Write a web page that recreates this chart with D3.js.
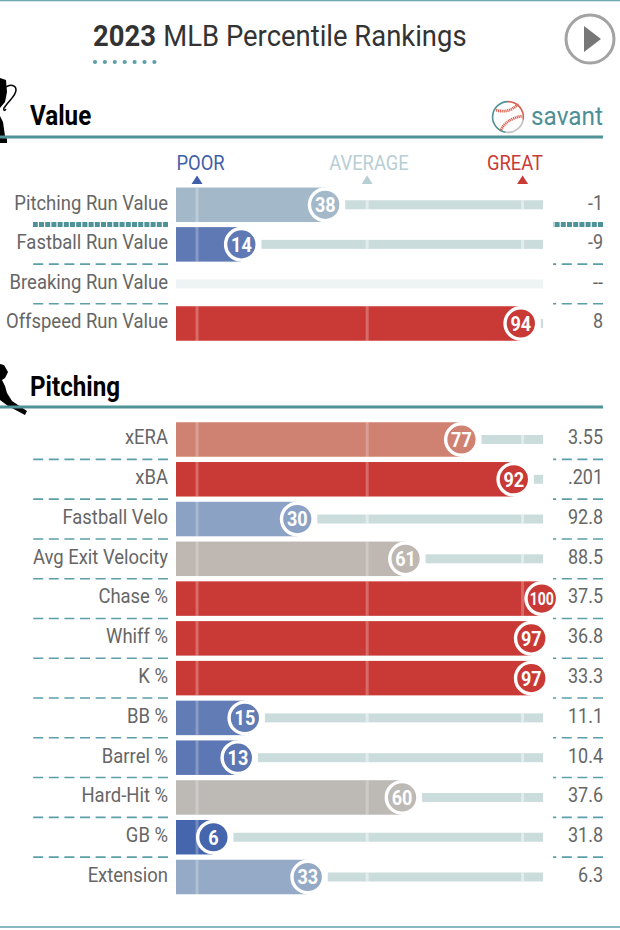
<!DOCTYPE html>
<html><head><meta charset="utf-8">
<style>html,body{margin:0;padding:0;background:#fff}svg{display:block}text{font-family:Roboto,sans-serif}</style>
<script src="https://cdn.jsdelivr.net/npm/d3@7"></script>
</head><body><svg id="c" width="620" height="930"></svg>
<script>
const valueLabels=["Pitching Run Value","Fastball Run Value","Breaking Run Value","Offspeed Run Value"];
const valuePercentiles=[38,14,null,94];
const valueStats=["-1","-9","--","8"];
const pitchingLabels=["xERA","xBA","Fastball Velo","Avg Exit Velocity","Chase %","Whiff %","K %","BB %","Barrel %","Hard-Hit %","GB %","Extension"];
const pitchingPercentiles=[77,92,30,61,100,97,97,15,13,60,6,33];
const pitchingStats=["3.55",".201","92.8","88.5","37.5","36.8","33.3","11.1","10.4","37.6","31.8","6.3"];
const legendLabels=["POOR","AVERAGE","GREAT"];
const colorStops=[0,6,14,30,38,50,60,77,90,100];
const colorValues=["#3a5ca8","#4565ad","#5f79b4","#8ba2c4","#a3b8c8","#bdbdbd","#bdbab6","#cf8172","#c93a36","#c93a36"];

const svg=d3.select("#c");
const teal="#4f9298";
const x=d3.scaleLinear().domain([0,100]).range([192.5,541.8]);
const color=d3.scaleLinear().domain(colorStops).range(colorValues);
const barLeft=176,trackEnd=543,barH=34.5,trackH=9,labelX=168,statX=603;
const refs=[1.3,50,94.5];

function squeezed(g,str,px,py,size,weight,fill,anchor,k){
  return g.append("text").attr("transform",`translate(${px},${py}) scale(${k},1)`)
    .attr("text-anchor",anchor).attr("font-size",size).attr("font-weight",weight).attr("fill",fill)
    .attr("dominant-baseline","central").text(str);
}
// frame
svg.append("line").attr("x1",0).attr("x2",620).attr("y1",0.5).attr("y2",0.5).attr("stroke","#6fa8b4").attr("stroke-width",1.5);
svg.append("line").attr("x1",0).attr("x2",620).attr("y1",927).attr("y2",927).attr("stroke","#5f9fab").attr("stroke-width",1.4);
// title
const title=svg.append("text").attr("transform","translate(93,36) scale(.93,1)").attr("font-size",29.5).attr("fill","#333").attr("dominant-baseline","central");
title.append("tspan").attr("font-weight",700).text("2023");
title.append("tspan").attr("font-weight",400).attr("dx",8).text("MLB Percentile Rankings");
svg.append("g").selectAll("circle").data(d3.range(7)).join("circle").attr("cx",d=>95+d*9.9).attr("cy",62).attr("r",2.1).attr("fill","#5c9fa8");
// play
svg.append("circle").attr("cx",590).attr("cy",39).attr("r",24).attr("fill","#fff").attr("stroke","#a3a3a3").attr("stroke-width",3);
svg.append("path").attr("d","M584,26L601,39L584,52Z").attr("fill","#777");
// savant
const sav=svg.append("g").attr("transform","translate(508,117)");
const arc=d3.arc().innerRadius(14.6).outerRadius(16.2);
[[0.0,1.75,"#d9604f"],[1.75,3.3,"#c2c2c2"],[3.3,6.29,teal]].forEach(([a,b,c])=>sav.append("path").attr("d",arc({startAngle:a,endAngle:b})).attr("fill",c));
sav.append("path").attr("d","M-12,-7Q1,-3 10,-13").attr("fill","none").attr("stroke","#d9604f").attr("stroke-width",2.8).attr("stroke-dasharray","1.2 .7");
sav.append("path").attr("d","M-7,13Q-2,2 14,-1").attr("fill","none").attr("stroke","#d9604f").attr("stroke-width",2.8).attr("stroke-dasharray","1.2 .7");
squeezed(svg,"savant",603,116,26.5,400,"#4d8f96","end",.92);

// section silhouettes
svg.append("path").attr("fill","#000").attr("d","M0,78L6,80L7,92L5,102L0,108ZM0,116L3,122L5,136L7,139L7,143L0,143Z");
svg.append("path").attr("fill","none").attr("stroke","#000").attr("stroke-width",1.5).attr("d","M6,87C10,84 16,85 16,90C16,96 9,100 4,108C3,111 5,111 6,109");
svg.append("path").attr("fill","#000").attr("d","M0,364L4,365L8,372L5,378L2,380L5,386L7,393L12,401L27,411L25,415L8,406L0,400Z");

function section(name,cy,ruleY,labels,pcts,stats,y0,y1){
  const g=svg.append("g");
  squeezed(g,name,30,cy,27.5,700,"#000","start",.88);
  g.append("line").attr("x1",0).attr("x2",603).attr("y1",ruleY).attr("y2",ruleY).attr("stroke",teal).attr("stroke-width",3);
  const y=d3.scalePoint().domain(labels).range([y0,y1]);
  const step=y.step();
  const rows=g.selectAll("g.row").data(labels.map((l,i)=>({l,p:pcts[i],s:stats[i],i}))).join("g").attr("class","row").attr("transform",d=>`translate(0,${y(d.l)})`);
  rows.each(function(d){
    const r=d3.select(this);
    const end=d.p==null?barLeft:x(d.p);
    const trackStart=d.p==null?barLeft:end+20;
    if(trackStart<trackEnd) r.append("rect").attr("x",trackStart).attr("y",-trackH/2).attr("width",trackEnd-trackStart).attr("height",trackH).attr("fill",d.p==null?"#eef3f3":"#cbdcdc");
    if(d.p!=null) r.append("rect").attr("x",barLeft).attr("y",-barH/2).attr("width",end-barLeft).attr("height",barH).attr("fill",color(d.p));
    refs.forEach(v=>{
      const rx=x(v);
      if(d.p!=null && rx>end+18) r.append("line").attr("x1",rx).attr("x2",rx).attr("y1",-trackH/2).attr("y2",trackH/2).attr("stroke","#fff").attr("stroke-opacity",.45).attr("stroke-width",3);
      else if(d.p!=null && rx<end-15) r.append("line").attr("x1",rx).attr("x2",rx).attr("y1",-barH/2).attr("y2",barH/2).attr("stroke","#fff").attr("stroke-opacity",.25).attr("stroke-width",3);
    });
    if(d.p!=null){
      r.append("circle").attr("cx",end).attr("r",15.8).attr("fill",color(d.p)).attr("stroke","#fff").attr("stroke-width",3.4);
      squeezed(r,d.p,end,0.5,d.p==100?18:20.5,700,"#fff","middle",d.p==100?.78:.88);
    }
    squeezed(r,d.l,labelX,-2,20.5,400,"#666","end",.9);
    squeezed(r,d.s,statX,-2,20,400,"#666","end",.9);
    if(d.i<labels.length-1){
      const dots=d.i==0&&name=="Value";
      [[33,labelX],[553,statX]].forEach(([a,b])=>{
        r.append("line").attr("x1",b).attr("x2",a).attr("y1",step/2).attr("y2",step/2).attr("stroke",dots?teal:"#5c9fa8").attr("stroke-width",dots?5:1.6).attr("stroke-dasharray",dots?"5 1.2":"10 5.6");
      });
    }
  });
}
section("Value",115,137,valueLabels,valuePercentiles,valueStats,204.8,323.5);
section("Pitching",386,407,pitchingLabels,pitchingPercentiles,pitchingStats,439.5,877);

// legend
const legendColors=["#3f5fa8","#b7ced4","#c93a36"];
const legendTextX=[200.5,369,515];
svg.append("g").selectAll("g").data(legendLabels).join("g").each(function(d,i){
  const g=d3.select(this), cx=x(refs[i]);
  squeezed(g,d,legendTextX[i],163,20,400,legendColors[i],"middle",.92);
  g.append("path").attr("d",`M${cx-5.5},184L${cx},175.5L${cx+5.5},184Z`).attr("fill",legendColors[i]);
});
</script></body></html>
